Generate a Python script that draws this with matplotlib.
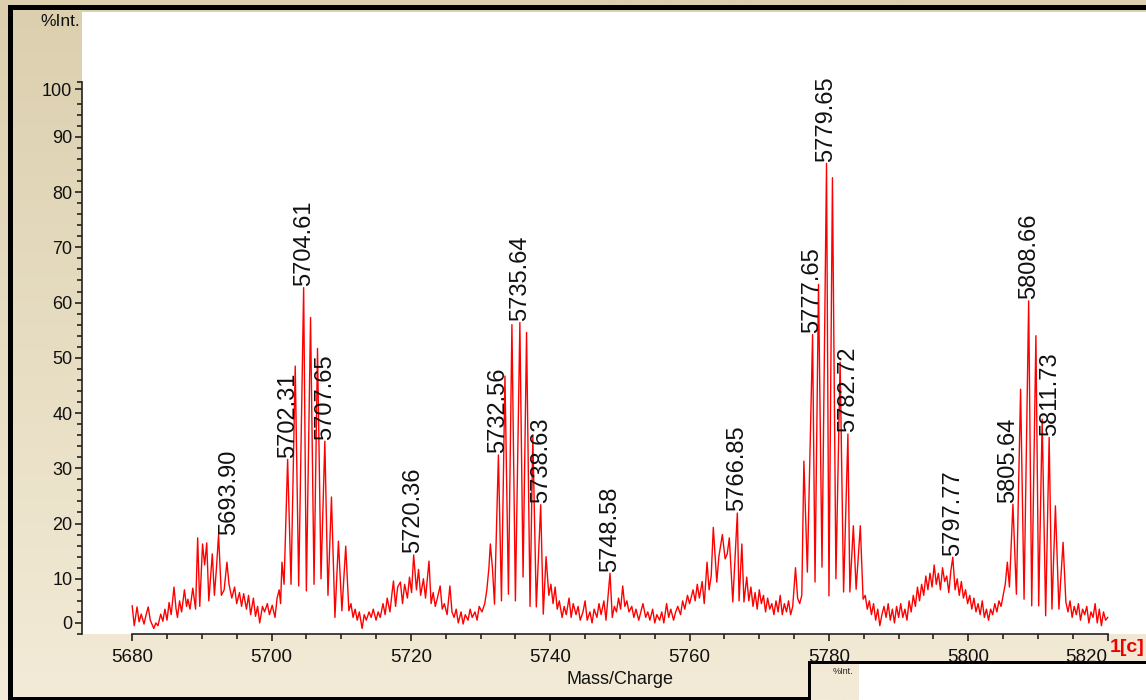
import numpy as np
import matplotlib
matplotlib.use("Agg")
import matplotlib.pyplot as plt
from matplotlib.patches import Rectangle

plt.rcParams['font.family'] = ['Liberation Sans', 'DejaVu Sans']

# spectrum points (m/z, %Int.), region by region
seg_5680 = [
    (5680.0, 5.1), (5680.3, 1.5), (5680.7, 4.9), (5681.0, 2.2), (5681.3, 3.6),
    (5681.7, 1.8), (5682.0, 3.5), (5682.3, 4.9), (5682.6, 2.5), (5683.1, 1.0),
    (5683.4, 2.0), (5683.7, 1.5), (5684.1, 3.6), (5684.4, 2.3), (5684.7, 4.5),
    (5685.0, 2.5), (5685.3, 5.7), (5685.6, 3.5), (5686.0, 8.5), (5686.3, 4.5),
    (5686.5, 3.0), (5686.8, 6.0), (5687.1, 4.0), (5687.5, 8.0), (5687.8, 5.0),
    (5688.0, 6.3), (5688.3, 4.5), (5688.7, 8.3), (5689.1, 4.5),
]
seg_5689 = [
    (5689.4, 17.4), (5689.7, 5.0), (5690.1, 16.3), (5690.4, 12.5), (5690.7, 16.5),
    (5691.0, 6.0), (5691.5, 14.5), (5691.8, 7.0), (5692.1, 12.0), (5692.4, 18.0),
    (5692.8, 7.0), (5693.2, 8.0), (5693.6, 13.0), (5693.9, 9.0), (5694.3, 6.5),
    (5694.7, 8.5), (5695.0, 5.5), (5695.4, 7.5), (5695.7, 5.0), (5696.0, 7.3),
    (5696.4, 4.5), (5696.7, 7.0), (5697.0, 3.5), (5697.4, 6.5), (5697.7, 3.2),
    (5698.0, 5.0), (5698.3, 2.0), (5698.7, 5.0), (5699.0, 4.0), (5699.4, 5.5),
    (5699.7, 3.5), (5700.1, 5.2), (5700.5, 3.0), (5700.8, 6.5), (5701.1, 8.0),
    (5701.3, 5.5), (5701.5, 13.0), (5701.8, 9.0),
]
seg_5702 = [
    (5702.31, 31.6), (5702.8, 9.0), (5703.4, 48.5), (5703.9, 8.7), (5704.61, 62.7),
    (5705.0, 7.8), (5705.6, 57.3), (5706.1, 9.0), (5706.6, 51.7), (5707.1, 10.0),
    (5707.65, 34.9), (5708.1, 7.0), (5708.6, 24.8), (5709.1, 3.0), (5709.6, 16.8),
    (5710.1, 4.2), (5710.65, 15.9), (5711.1, 4.2),
]
seg_5711 = [
    (5711.4, 5.5), (5711.7, 3.0), (5712.0, 4.5), (5712.3, 2.5), (5712.6, 4.0),
    (5713.0, 1.0), (5713.3, 3.5), (5713.6, 2.5), (5714.0, 4.0), (5714.3, 3.0),
    (5714.6, 4.5), (5715.0, 2.5), (5715.3, 4.0), (5715.6, 3.0), (5716.0, 5.5),
    (5716.3, 3.5), (5716.6, 6.5), (5717.0, 4.0), (5717.3, 7.5), (5717.5, 9.6),
    (5717.8, 5.0), (5718.1, 8.5), (5718.5, 9.4), (5718.8, 5.5), (5719.1, 9.0),
    (5719.5, 6.5), (5719.8, 10.3), (5720.1, 7.5), (5720.4, 14.3), (5720.8, 8.0),
    (5721.1, 11.7), (5721.4, 7.0), (5721.8, 10.0), (5722.1, 6.5), (5722.6, 13.2),
    (5722.9, 5.5), (5723.2, 7.5), (5723.5, 5.0), (5723.8, 6.5), (5724.2, 8.7),
    (5724.5, 4.5), (5724.8, 5.5), (5725.2, 3.5), (5725.6, 8.7), (5725.9, 4.0),
    (5726.2, 3.0), (5726.5, 4.5), (5726.8, 2.0), (5727.2, 4.0), (5727.5, 1.8),
    (5727.8, 3.5), (5728.2, 2.5), (5728.5, 4.5), (5728.8, 3.0), (5729.2, 4.0),
    (5729.5, 2.5), (5729.8, 5.0), (5730.2, 4.0), (5730.6, 5.5), (5730.9, 8.0),
    (5731.2, 12.0), (5731.4, 16.3), (5731.7, 12.0), (5732.0, 5.4),
]
seg_5732 = [
    (5732.56, 32.4), (5733.0, 6.0), (5733.5, 46.7), (5734.0, 7.2), (5734.5, 56.0),
    (5735.0, 6.0), (5735.64, 56.4), (5736.1, 10.3), (5736.6, 54.6), (5737.1, 5.0),
    (5737.5, 35.8), (5738.0, 4.9), (5738.63, 23.4), (5739.0, 3.6), (5739.4, 14.0),
    (5739.8, 7.0), (5740.1, 9.0), (5740.4, 5.5), (5740.7, 8.5),
]
seg_5741 = [
    (5741.0, 4.5), (5741.3, 6.0), (5741.7, 3.0), (5742.0, 5.0), (5742.3, 3.5),
    (5742.7, 6.5), (5743.0, 3.0), (5743.3, 5.5), (5743.7, 3.5), (5744.0, 5.0),
    (5744.3, 2.5), (5744.7, 4.0), (5745.0, 6.0), (5745.3, 2.5), (5745.7, 4.0),
    (5746.0, 2.0), (5746.3, 4.5), (5746.7, 3.0), (5747.0, 5.5), (5747.3, 3.5),
    (5747.7, 6.0), (5748.0, 2.5), (5748.58, 11.0), (5748.9, 3.0), (5749.2, 5.0),
    (5749.5, 4.0), (5749.8, 6.5), (5750.1, 4.5), (5750.4, 8.7), (5750.7, 5.0),
    (5751.0, 6.0), (5751.3, 4.0), (5751.7, 5.0), (5752.0, 3.0), (5752.3, 4.5),
    (5752.7, 2.5), (5753.0, 4.0), (5753.3, 5.5), (5753.7, 3.0), (5754.0, 4.0),
    (5754.3, 2.5), (5754.7, 4.5), (5755.0, 2.0), (5755.3, 3.5), (5755.7, 2.5),
    (5756.0, 4.0), (5756.3, 2.0), (5756.7, 5.5), (5757.0, 3.0), (5757.3, 4.5),
    (5757.7, 2.5), (5758.0, 4.0), (5758.3, 5.0), (5758.7, 3.5), (5759.0, 6.0),
    (5759.3, 4.5), (5759.7, 7.0), (5760.0, 5.5), (5760.5, 8.0), (5760.8, 6.0),
    (5761.1, 9.0), (5761.4, 6.5), (5761.8, 9.5), (5762.1, 5.5), (5762.5, 13.0),
    (5762.8, 8.0), (5763.1, 10.5), (5763.4, 19.3), (5763.9, 9.4), (5764.2, 14.0),
    (5764.7, 18.0), (5765.1, 13.6), (5765.4, 14.5), (5765.7, 17.4), (5766.2, 5.8),
    (5766.85, 21.9), (5767.1, 6.0), (5767.5, 16.3), (5767.8, 5.8), (5768.2, 10.3),
    (5768.5, 6.0), (5768.8, 8.5), (5769.1, 5.0), (5769.4, 7.5), (5769.7, 4.5),
    (5770.0, 8.0), (5770.3, 5.5), (5770.6, 7.0), (5770.9, 4.0), (5771.2, 6.5),
    (5771.5, 4.5), (5771.8, 5.5), (5772.1, 3.5), (5772.4, 6.0), (5772.7, 4.0),
    (5773.0, 7.0), (5773.3, 3.5), (5773.6, 5.5), (5773.9, 4.0), (5774.2, 6.0),
    (5774.5, 3.5), (5774.8, 5.0), (5775.2, 12.0), (5775.5, 6.5), (5775.8, 5.5),
    (5776.1, 7.0),
]
seg_5776 = [
    (5776.4, 31.3), (5776.9, 11.2), (5777.65, 54.2), (5778.0, 9.4), (5778.5, 63.3),
    (5779.0, 12.1), (5779.65, 85.2), (5780.0, 6.9), (5780.5, 82.6), (5781.0, 10.0),
    (5781.6, 49.2), (5782.1, 7.6), (5782.72, 36.2), (5783.0, 7.6), (5783.5, 19.6),
    (5783.9, 8.1), (5784.5, 19.6), (5784.9, 6.3),
]
seg_5785 = [
    (5785.2, 7.0), (5785.5, 4.5), (5785.8, 6.0), (5786.1, 3.5), (5786.4, 5.5),
    (5786.7, 2.5), (5787.0, 4.5), (5787.3, 1.5), (5787.6, 3.5), (5787.9, 5.0),
    (5788.2, 3.0), (5788.5, 5.5), (5788.8, 2.5), (5789.1, 4.5), (5789.4, 2.0),
    (5789.7, 5.0), (5790.0, 3.0), (5790.3, 5.5), (5790.6, 3.0), (5790.9, 4.5),
    (5791.2, 2.5), (5791.5, 6.0), (5791.8, 4.0), (5792.1, 7.0), (5792.4, 5.0),
    (5792.7, 8.5), (5793.0, 6.0), (5793.3, 9.0), (5793.6, 7.0), (5793.9, 10.5),
    (5794.2, 8.0), (5794.5, 11.0), (5794.8, 8.5), (5795.1, 12.5), (5795.4, 9.0),
    (5795.7, 11.0), (5796.0, 8.0), (5796.3, 12.0), (5796.6, 9.5), (5796.9, 10.5),
    (5797.2, 7.5), (5797.5, 11.5), (5797.77, 13.9), (5798.1, 8.0), (5798.4, 10.0),
    (5798.7, 7.0), (5799.0, 9.5), (5799.3, 6.5), (5799.6, 8.0), (5799.9, 5.5),
    (5800.2, 7.0), (5800.5, 4.5), (5800.8, 6.5), (5801.1, 4.0), (5801.4, 5.5),
    (5801.7, 3.5), (5802.0, 6.0), (5802.3, 3.0), (5802.6, 4.5), (5802.9, 2.5),
    (5803.2, 4.5), (5803.5, 3.5), (5803.8, 5.5), (5804.1, 4.0), (5804.4, 6.0),
    (5804.7, 5.0), (5805.0, 7.0), (5805.3, 9.0), (5805.6, 13.0), (5805.9, 8.5),
]
seg_5806 = [
    (5806.4, 23.5), (5806.9, 7.2), (5807.5, 44.3), (5808.0, 6.3), (5808.66, 60.3),
    (5809.1, 5.1), (5809.7, 54.0), (5810.1, 5.1), (5810.6, 38.9), (5811.1, 3.3),
    (5811.6, 35.6), (5812.0, 4.5), (5812.5, 23.2), (5813.0, 4.5), (5813.6, 16.6),
    (5814.0, 5.8), (5814.3, 4.0), (5814.6, 6.0), (5814.9, 3.0), (5815.2, 5.0),
    (5815.5, 3.5), (5815.8, 5.5), (5816.1, 2.5), (5816.4, 4.5), (5816.7, 3.5),
    (5817.0, 5.0), (5817.3, 2.0), (5817.6, 4.0), (5817.9, 3.0), (5818.2, 5.5),
    (5818.5, 2.0), (5818.8, 4.5), (5819.1, 1.5), (5819.4, 4.0), (5819.7, 2.5),
    (5820.0, 3.0),
]

# annotated peaks: text, m/z, height of the label foot
peak_labels = ["5693.90", "5702.31", "5704.61", "5707.65", "5720.36", "5732.56",
               "5735.64", "5738.63", "5748.58", "5766.85", "5777.65", "5779.65",
               "5782.72", "5797.77", "5805.64", "5808.66", "5811.73"]
peak_mz = [5693.90, 5702.31, 5704.61, 5707.65, 5720.36, 5732.56, 5735.64, 5738.63,
           5748.58, 5766.85, 5777.65, 5779.65, 5782.72, 5797.77, 5805.64, 5808.66,
           5811.73]
peak_height = [17.7, 31.6, 62.7, 34.9, 14.3, 32.4, 56.4, 23.4, 11.0, 21.9, 54.2,
               85.2, 36.2, 13.9, 23.5, 60.3, 35.6]

x_major = [5680, 5700, 5720, 5740, 5760, 5780, 5800, 5820]
y_labels = ["0", "10", "20", "30", "40", "50", "60", "70", "80", "90", "100"]
y_label_pos = [2, 10, 20, 30, 40, 50, 60, 70, 80, 90, 98.6]

segments = [seg_5680, seg_5689, seg_5702, seg_5711, seg_5732, seg_5741,
            seg_5776, seg_5785, seg_5806]
pts = [p for s in segments for p in s]
mz = np.array([p[0] for p in pts])
inten = np.array([p[1] for p in pts])

W, H = 1146, 700
fig = plt.figure(figsize=(W / 100, H / 100), dpi=100)

# frame / background in pixel coordinates
bg = fig.add_axes([0, 0, 1, 1], zorder=-5)
bg.set_xlim(0, W)
bg.set_ylim(H, 0)
bg.axis('off')
top_c = np.array([219, 207, 174]) / 255
bot_c = np.array([243, 235, 215]) / 255
t = np.linspace(0, 1, 256)[:, None, None]
grad = top_c * (1 - t) + bot_c * t
bg.imshow(grad, extent=[0, W, H, 0], aspect='auto')
bg.add_patch(Rectangle((8, 5), W - 8, 5, color='black', lw=0))
bg.add_patch(Rectangle((8, 5), 5, H - 5, color='black', lw=0))
bg.add_patch(Rectangle((8, 697), 801, 3, color='black', lw=0))
bg.add_patch(Rectangle((808, 661), W - 808, 3, color='black', lw=0))
bg.add_patch(Rectangle((808, 661), 3, H - 661, color='black', lw=0))
bg.add_patch(Rectangle((859, 664), W - 859, H - 664, color='white', lw=0))
bg.text(843, 671, "%Int.", fontsize=6.5, ha='center', va='center', color='#222222')

# main plot
ax = fig.add_axes([82 / W, (H - 634) / H, (W - 82) / W, (634 - 12) / H])
ax.set_facecolor('white')
ax.plot(mz, inten, color='#ff0000', lw=1.0)
ax.set_xlim(5672.8, 5825.5)
ax.set_ylim(0, 112.6)

for s in ['top', 'right']:
    ax.spines[s].set_visible(False)
ax.spines['left'].set_bounds(0, 100)
ax.spines['bottom'].set_bounds(5680, 5820)
for s in ['left', 'bottom']:
    ax.spines[s].set_linewidth(1.2)
    ax.spines[s].set_color('#222222')

ax.set_xticks(x_major)
ax.set_xticks(np.arange(5680, 5821, 5), minor=True)
ax.set_yticks(y_label_pos)
ax.set_yticklabels(y_labels)
ax.set_yticks([0, 4, 6, 8] + [v for v in range(12, 89, 2) if v % 10] + [92, 94, 96, 100],
              minor=True)
ax.tick_params(axis='both', which='major', length=5, width=1.2, color='#222222',
               labelcolor='#111111')
ax.tick_params(axis='both', which='minor', length=3.5, width=1.2, color='#222222')
ax.tick_params(axis='x', labelsize=13.5, pad=6)
ax.tick_params(axis='y', labelsize=13, pad=2)
# last x label sits left of its tick, as in the original software
ax.get_xticklabels()[-1].set_horizontalalignment('right')

for lab, x, y in zip(peak_labels, peak_mz, peak_height):
    ax.text(x, y + 0.3, lab, rotation=90, ha='center', va='bottom', fontsize=17,
            color='#111111')

fig.text(80 / W, 1 - 22 / H, "%Int.", ha='right', va='center', fontsize=12.5,
         color='#111111')
fig.text(620 / W, 1 - 680 / H, "Mass/Charge", ha='center', va='center', fontsize=13,
         color='#111111')
fig.text(1110 / W, 1 - 647 / H, "1[c]", ha='left', va='center', fontsize=14,
         fontweight='bold', color='#ee0000')

fig.savefig("out.png", dpi=100)
